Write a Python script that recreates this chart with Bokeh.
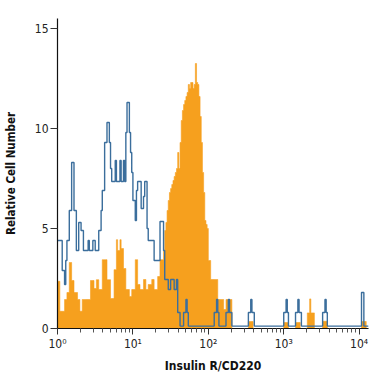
import numpy as np
from bokeh.plotting import figure
from bokeh.models import Range1d, FixedTicker
from bokeh.embed import file_html
from bokeh.resources import INLINE

# ---- data: histogram channels (64 channels per decade, starting at 10^0) ----
CH_PER_DECADE = 64
N_CH = 264

# orange (filled) histogram: run starts (channel) and levels
orange_start = [0, 2, 6, 8, 10, 12, 14, 17, 19, 21, 28, 31, 33, 35, 38, 42, 45, 48, 50, 51,
                53, 54, 56, 58, 61, 63, 66, 68, 70, 73, 75, 77, 80, 82, 85, 87, 90, 91, 92, 93,
                94, 95, 96, 97, 98, 99, 100, 101, 102, 103, 104, 105, 106, 107, 108, 109, 110, 111, 112, 113,
                115, 116, 117, 118, 119, 120, 121, 122, 123, 124, 125, 126, 127, 128, 130, 136, 141, 143, 148, 162,
                166, 192, 196, 202, 206, 212, 214, 215, 218, 225, 229, 258, 262]
orange_level = [2.36, 0.86, 1.45, 1.8, 3.3, 2.4, 1.8, 1.45, 0.86, 1.45, 2.4, 2.0, 2.44, 1.95, 3.44, 2.44, 1.5, 2.94, 4.44, 3.9,
                4.44, 4.0, 3.0, 1.95, 1.6, 1.95, 3.44, 2.2, 1.95, 2.45, 1.95, 2.2, 2.45, 1.95, 2.6, 3.44, 3.9, 4.9, 5.3, 5.9,
                6.4, 6.8, 7.0, 7.2, 7.4, 7.6, 7.8, 8.0, 8.8, 8.0, 9.3, 10.4, 10.9, 11.2, 11.4, 11.6, 11.8, 12.2, 12.0, 12.3,
                12.0, 12.2, 13.25, 12.3, 12.2, 11.6, 10.6, 9.3, 7.8, 6.8, 5.4, 5.2, 5.0, 3.4, 2.45, 1.45, 0.95, 1.45, 0.0, 0.35,
                0.0, 0.3, 0.0, 0.3, 0.0, 0.78, 1.48, 0.78, 0.0, 0.36, 0.0, 0.35, 0.0]

# blue (outline) histogram: run starts (channel) and levels
blue_start = [0, 4, 6, 7, 8, 10, 12, 14, 16, 18, 20, 22, 26, 27, 30, 32, 35, 37, 38, 40,
              42, 44, 45, 46, 49, 50, 53, 54, 56, 57, 58, 59, 61, 62, 63, 64, 66, 67, 68, 71,
              73, 74, 76, 77, 82, 87, 90, 91, 94, 96, 99, 101, 102, 104, 107, 109, 110, 111, 133, 135,
              136, 137, 143, 145, 146, 148, 162, 164, 165, 167, 192, 194, 195, 196, 202, 204, 205, 207, 225, 227,
              228, 229, 258, 260]
blue_level = [4.4, 2.9, 2.2, 3.4, 4.4, 5.9, 8.3, 5.9, 3.9, 5.3, 4.9, 3.9, 4.4, 3.9, 4.4, 3.9, 4.9, 5.9, 6.9, 9.3,
              10.3, 9.3, 8.0, 7.35, 8.4, 7.35, 8.4, 7.35, 8.4, 7.35, 9.8, 11.3, 9.8, 8.8, 7.8, 6.4, 5.4, 6.9, 7.35, 6.0,
              6.6, 7.35, 5.0, 4.4, 3.4, 5.35, 3.9, 2.45, 1.95, 2.45, 1.95, 2.45, 0.8, 0.12, 0.8, 1.45, 0.8, 0.12, 0.8, 1.45,
              0.8, 0.12, 0.8, 1.45, 0.8, 0.12, 0.8, 1.45, 0.8, 0.12, 0.8, 1.45, 0.8, 0.12, 0.8, 1.45, 0.8, 0.12, 0.8, 1.45,
              0.8, 0.12, 1.8, 0.12]

x_major = [1, 10, 100, 1000, 10000]
x_major_labels = ["10\u2070", "10\u00b9", "10\u00b2", "10\u00b3", "10\u2074"]
y_major = [0, 5, 10, 15]

ORANGE = "#F6A01E"
BLUE = "#3B6E9C"
FONT = "DejaVu Sans Condensed"


def expand(starts, levels, n):
    out = np.zeros(n)
    ends = list(starts[1:]) + [n]
    for s, e, v in zip(starts, ends, levels):
        out[s:e] = v
    return out


edges = 10.0 ** (np.arange(N_CH + 1) / CH_PER_DECADE)
orange = expand(orange_start, orange_level, N_CH)
blue = expand(blue_start, blue_level, N_CH)
y_b = np.append(blue, blue[-1])

# closed step outline of the filled histogram (one polygon, no seams)
px = np.concatenate([[edges[0]], np.repeat(edges[1:-1], 2), [edges[-1]]])
py = np.repeat(orange, 2)
poly_x = np.concatenate([[edges[0]], px, [edges[-1]]])
poly_y = np.concatenate([[0.0], py, [0.0]])

p = figure(width=375, height=375, x_axis_type="log",
           x_range=Range1d(1, 10 ** 4.124), y_range=Range1d(0, 15.5),
           output_backend="svg", toolbar_location=None,
           min_border_left=55, min_border_right=7, min_border_top=18, min_border_bottom=46)

p.patch(x=poly_x, y=poly_y, fill_color=ORANGE, fill_alpha=1.0,
        line_color=ORANGE, line_width=0.6)
p.step(x=edges, y=y_b, mode="after", line_color=BLUE, line_width=1.4)

minor = []
for d in [1, 10, 100, 1000]:
    minor += [d * k for k in range(2, 10)]
p.xaxis.ticker = FixedTicker(ticks=x_major, minor_ticks=minor)
p.xaxis.major_label_overrides = {t: l for t, l in zip(x_major, x_major_labels)}
p.yaxis.ticker = FixedTicker(ticks=y_major, minor_ticks=[])

p.grid.visible = False
p.outline_line_color = None
p.background_fill_color = "white"
p.border_fill_color = "white"

for ax in (p.xaxis[0], p.yaxis[0]):
    ax.axis_line_color = "#111111"
    ax.axis_line_width = 1.2
    ax.major_tick_in = 0
    ax.minor_tick_in = 0
    ax.major_tick_line_color = "#333333"
    ax.minor_tick_line_color = "#555555"
    ax.major_label_text_font = FONT
    ax.major_label_text_font_size = "12px"
    ax.major_label_text_color = "#222222"
    ax.axis_label_text_font = FONT
    ax.axis_label_text_font_style = "bold"
    ax.axis_label_text_color = "#111111"

p.xaxis.axis_label_text_font_size = "12px"
p.yaxis.axis_label_text_font_size = "11.5px"

p.xaxis.major_tick_out = 6
p.xaxis.minor_tick_out = 4
p.xaxis.major_label_standoff = 2
p.xaxis.axis_label = "Insulin R/CD220"
p.xaxis.axis_label_standoff = 5

p.yaxis.major_tick_out = 7
p.yaxis.major_label_standoff = 2
p.yaxis.axis_label = "Relative Cell Number"
p.yaxis.axis_label_standoff = 14

open("out.html", "w").write(file_html(p, INLINE))
